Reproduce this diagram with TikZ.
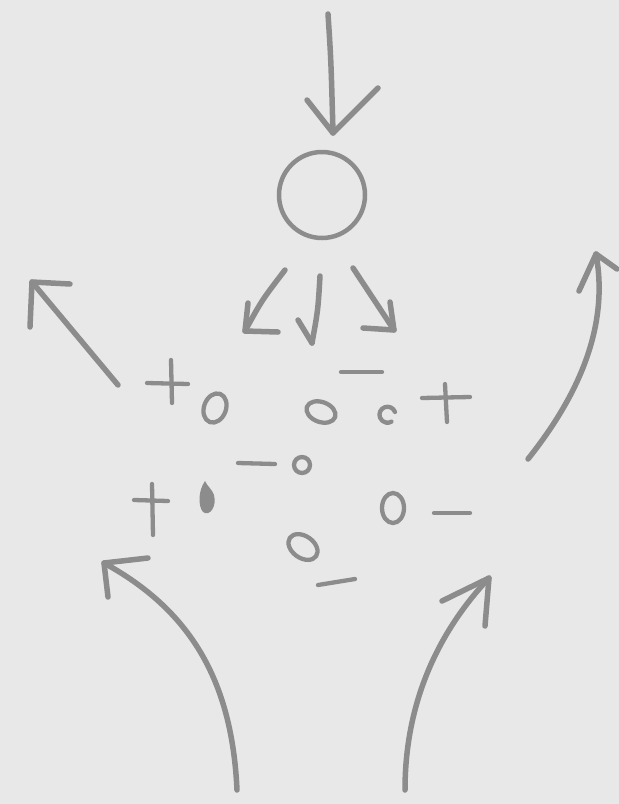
\documentclass[tikz,border=0pt]{standalone}
\begin{document}
\begin{tikzpicture}[x=1pt,y=-1pt,
  ink/.style={draw=black!45,line width=5.5pt,line cap=round,line join=round},
  thin ink/.style={draw=black!45,line width=4.3pt,line cap=round,line join=round}]
\fill[black!9] (0,0) rectangle (619,804);
\useasboundingbox (0,0) rectangle (619,804);
% top arrow into circle
\coordinate (topstart) at (328,14);
\node[circle,draw=black!45,line width=4.5pt,minimum size=86pt,inner sep=0pt] (ion) at (322,195) {};
\coordinate (toptip) at (333,133);
\draw[ink] (topstart) .. controls (331,60) .. (toptip);
\draw[ink] (307,100) -- (toptip) -- (378,88);
% three small arrows
\coordinate (l1) at (285,270); \coordinate (l2) at (245,331);
\draw[ink] (l1) .. controls (262,300) .. (l2);
\draw[ink] (278,332) -- (l2) -- (248,303);
\coordinate (m1) at (320,276); \coordinate (m2) at (312,343);
\draw[ink] (m1) .. controls (318,310) .. (m2);
\draw[ink] (298,320) -- (m2);
\coordinate (r1) at (353,268); \coordinate (r2) at (394,330);
\draw[ink] (r1) -- (r2);
\draw[ink] (363,328) -- (r2) -- (390,302);
% upper-left arrow
\coordinate (ul1) at (118,385); \coordinate (ul2) at (32,282);
\draw[ink] (ul1) -- (ul2);
\draw[ink] (70,284) -- (ul2) -- (30,327);
% upper-right curved arrow
\coordinate (ur1) at (528,459); \coordinate (ur2) at (596,254);
\draw[ink] (ur1) .. controls (575,400) and (610,330) .. (ur2);
\draw[ink] (579,291) -- (ur2) -- (617,269);
% lower-left curved arrow
\coordinate (ll1) at (237,790); \coordinate (ll2) at (104,563);
\draw[ink] (ll1) .. controls (232,680) and (190,610) .. (ll2);
\draw[ink] (148,558) -- (ll2) -- (108,597);
% lower-right curved arrow
\coordinate (lr1) at (405,790); \coordinate (lr2) at (489,578);
\draw[ink] (lr1) .. controls (405,700) and (440,630) .. (lr2);
\draw[ink] (442,601) -- (lr2) -- (485,626);
% charges and particles
\draw[thin ink] (147,383) -- (188,384); \draw[thin ink] (171,360) -- (172,403);
\draw[thin ink,rotate around={-20:(215,408)}] (215,408) ellipse (11 and 15);
\draw[thin ink] (341,372) -- (382,372);
\draw[thin ink,rotate around={-20:(321,412)}] (321,412) ellipse (15 and 10);
\draw[thin ink] (395,412) arc (-20:-300:8);
\draw[thin ink] (422,398) -- (470,397); \draw[thin ink] (445,384) -- (447,422);
\draw[thin ink] (238,463) -- (275,464);
\draw[thin ink] (302,465) circle (8);
\draw[thin ink] (134,500) -- (168,501); \draw[thin ink] (152,484) -- (153,535);
\fill[black!45] (205,481) .. controls (198,491) and (198,506) .. (203,512) .. controls (210,517) and (217,506) .. (214,495) .. controls (212,489) and (207,486) .. (205,481) -- cycle;
\draw[thin ink] (393,508) ellipse (11 and 15);
\draw[thin ink] (434,513) -- (470,513);
\draw[thin ink,rotate around={-35:(303,547)}] (303,547) ellipse (16 and 11);
\draw[thin ink] (318,585) -- (355,579);
\end{tikzpicture}
\end{document}
